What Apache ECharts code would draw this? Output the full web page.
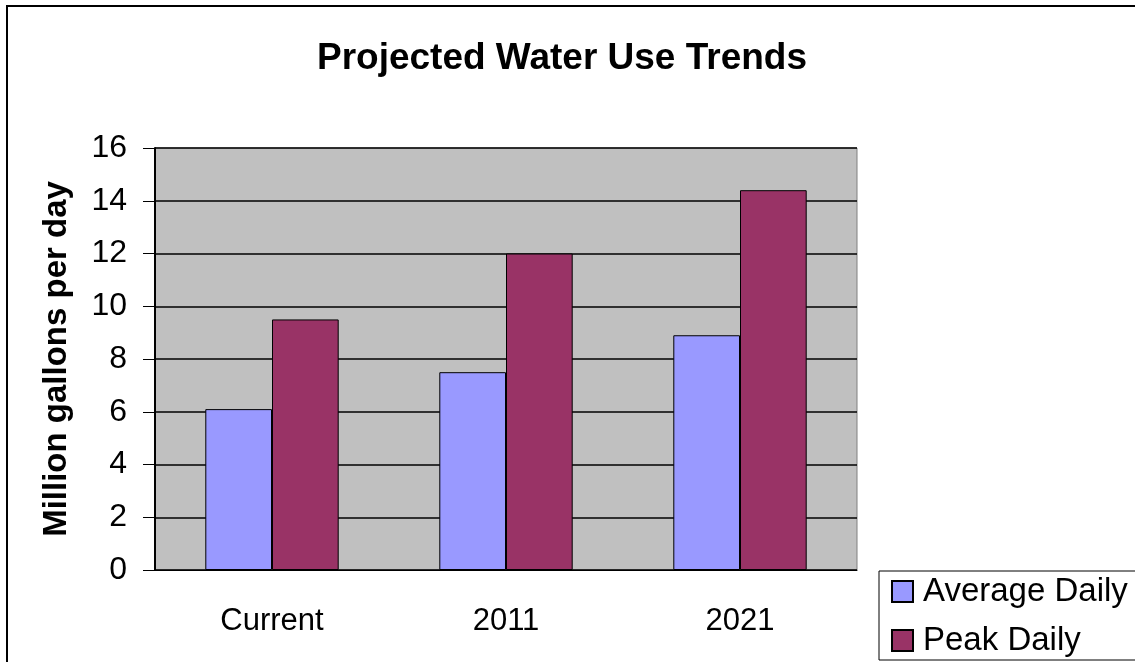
<!DOCTYPE html>
<html>
<head>
<meta charset="utf-8">
<script src="https://cdn.jsdelivr.net/npm/echarts@6/dist/echarts.min.js"></script>
<style>
  html, body { margin: 0; padding: 0; background: #fff; }
  #main { width: 1135px; height: 662px; }
</style>
</head>
<body>
<div id="main"></div>
<script>
// 数据
var categories = ['Current', '2011', '2021'];
var averageDaily = [6.1, 7.5, 8.9];
var peakDaily = [9.5, 12.0, 14.4];
var seriesNames = ['Average Daily', 'Peak Daily'];

var myChart = echarts.init(document.getElementById('main'));

var font = 'Arial, "Liberation Sans", sans-serif';

var option = {
    backgroundColor: '#fff',
    animation: false,
    title: {
        text: 'Projected Water Use Trends',
        left: 557,
        top: 35,
        textAlign: 'center',
        textStyle: {
            fontFamily: font,
            fontSize: 37,
            fontWeight: 'bold',
            color: '#000'
        }
    },
    graphic: [
        {
            type: 'rect',
            shape: { x: 7, y: 6, width: 1140, height: 670 },
            style: { fill: 'none', stroke: '#000', lineWidth: 2 },
            silent: true
        }
    ],
    legend: {
        orient: 'vertical',
        left: 879,
        top: 571,
        padding: [4, 60, 3, 12],
        itemGap: 16,
        itemWidth: 21,
        itemHeight: 21,
        icon: 'rect',
        backgroundColor: '#fff',
        borderColor: '#000',
        borderWidth: 1,
        data: seriesNames,
        textStyle: {
            fontFamily: font,
            fontSize: 33,
            lineHeight: 33,
            color: '#000',
            padding: [0, 0, 0, 5]
        }
    },
    grid: {
        left: 155,
        right: 278,
        top: 148,
        bottom: 92,
        show: true,
        backgroundColor: '#C0C0C0',
        borderColor: '#808080',
        borderWidth: 1
    },
    xAxis: {
        type: 'category',
        data: categories,
        axisLine: { lineStyle: { color: '#000', width: 1 } },
        axisTick: { length: 8, lineStyle: { color: '#000' } },
        axisLabel: {
            margin: 36,
            fontFamily: font,
            fontSize: 31,
            color: '#000'
        }
    },
    yAxis: {
        type: 'value',
        min: 0,
        max: 16,
        interval: 2,
        name: 'Million gallons per day',
        nameLocation: 'middle',
        nameGap: 82,
        nameTextStyle: {
            fontFamily: font,
            fontSize: 33,
            fontWeight: 'bold',
            color: '#000'
        },
        axisLine: { show: true, lineStyle: { color: '#000', width: 2 } },
        axisTick: { show: true, length: 12, lineStyle: { color: '#000' } },
        splitLine: { lineStyle: { color: '#000', width: 1.5 } },
        axisLabel: {
            margin: 28,
            fontFamily: font,
            fontSize: 32,
            color: '#000'
        }
    },
    series: [
        {
            name: seriesNames[0],
            type: 'bar',
            data: averageDaily,
            barGap: '0%',
            barCategoryGap: '43%',
            itemStyle: { color: '#9999FF', borderColor: '#000', borderWidth: 1 }
        },
        {
            name: seriesNames[1],
            type: 'bar',
            data: peakDaily,
            itemStyle: { color: '#993366', borderColor: '#000', borderWidth: 1 }
        }
    ]
};

myChart.setOption(option);
</script>
</body>
</html>
